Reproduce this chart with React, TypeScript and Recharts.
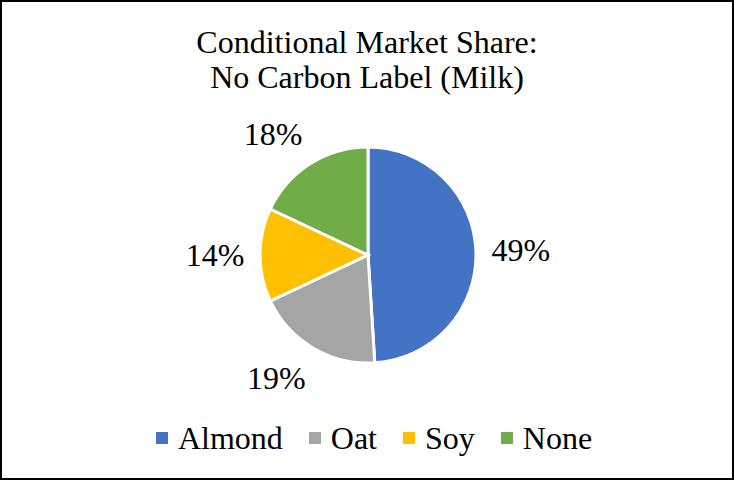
import { PieChart, Pie, Cell, Legend } from 'recharts';

const categories = ['Almond', 'Oat', 'Soy', 'None'];
const shares = [49, 19, 14, 18];
const COLORS = ['#4472c4', '#a5a5a5', '#ffc000', '#70ad47'];

const data = categories.map((name, i) => ({ name, value: shares[i] }));

const FONT = '"Liberation Serif", "Times New Roman", serif';
const RAD = Math.PI / 180;
const clamp = (v: number) => Math.max(-1, Math.min(1, v));

// outside-end label: the box corner nearest the pie sits on the ray at outerRadius + gap
function renderLabel(props: any) {
  const { cx, cy, midAngle, outerRadius, value } = props;
  const ux = Math.cos(-midAngle * RAD);
  const uy = Math.sin(-midAngle * RAD);
  const r = outerRadius + 17;
  const x = cx + r * ux + 28 * clamp(ux * 2);
  const y = cy + r * uy + 15 * clamp(uy * 2);
  return (
    <text x={x} y={y} textAnchor="middle" dominantBaseline="central" fill="#000" fontSize={32} fontFamily={FONT}>
      {value}%
    </text>
  );
}

function LegendContent() {
  return (
    <div style={{ display: 'flex', justifyContent: 'center', gap: 26, paddingLeft: 14, fontFamily: FONT, fontSize: 32, lineHeight: '36px', color: '#000' }}>
      {categories.map((c, i) => (
        <div key={c} style={{ display: 'flex', alignItems: 'center', gap: 10 }}>
          <span style={{ width: 12, height: 12, background: COLORS[i], display: 'inline-block' }} />
          <span>{c}</span>
        </div>
      ))}
    </div>
  );
}

export default function App() {
  return (
    <div style={{ position: 'fixed', left: 0, top: 0, width: 734, height: 480, background: '#fff', boxSizing: 'border-box', border: '2px solid #000' }}>
      <div style={{ position: 'absolute', left: 0, right: 0, top: 23, textAlign: 'center', fontFamily: FONT, fontSize: 32, lineHeight: '35px', color: '#000' }}>
        Conditional Market Share:<br />No Carbon Label (Milk)
      </div>
      <div style={{ position: 'absolute', left: -2, top: -2 }}>
        <PieChart width={734} height={480} margin={{ top: 0, right: 0, bottom: 0, left: 0 }}>
          <Pie
            data={data}
            dataKey="value"
            nameKey="name"
            cx={368}
            cy={255}
            outerRadius={108}
            startAngle={90}
            endAngle={-270}
            stroke="#fff"
            strokeWidth={3}
            label={renderLabel}
            labelLine={false}
            isAnimationActive={false}
          >
            {data.map((_, i) => (
              <Cell key={i} fill={COLORS[i]} />
            ))}
          </Pie>
          <Legend
            content={<LegendContent />}
            wrapperStyle={{ top: 420, left: 0, width: 734 }}
          />
        </PieChart>
      </div>
    </div>
  );
}
